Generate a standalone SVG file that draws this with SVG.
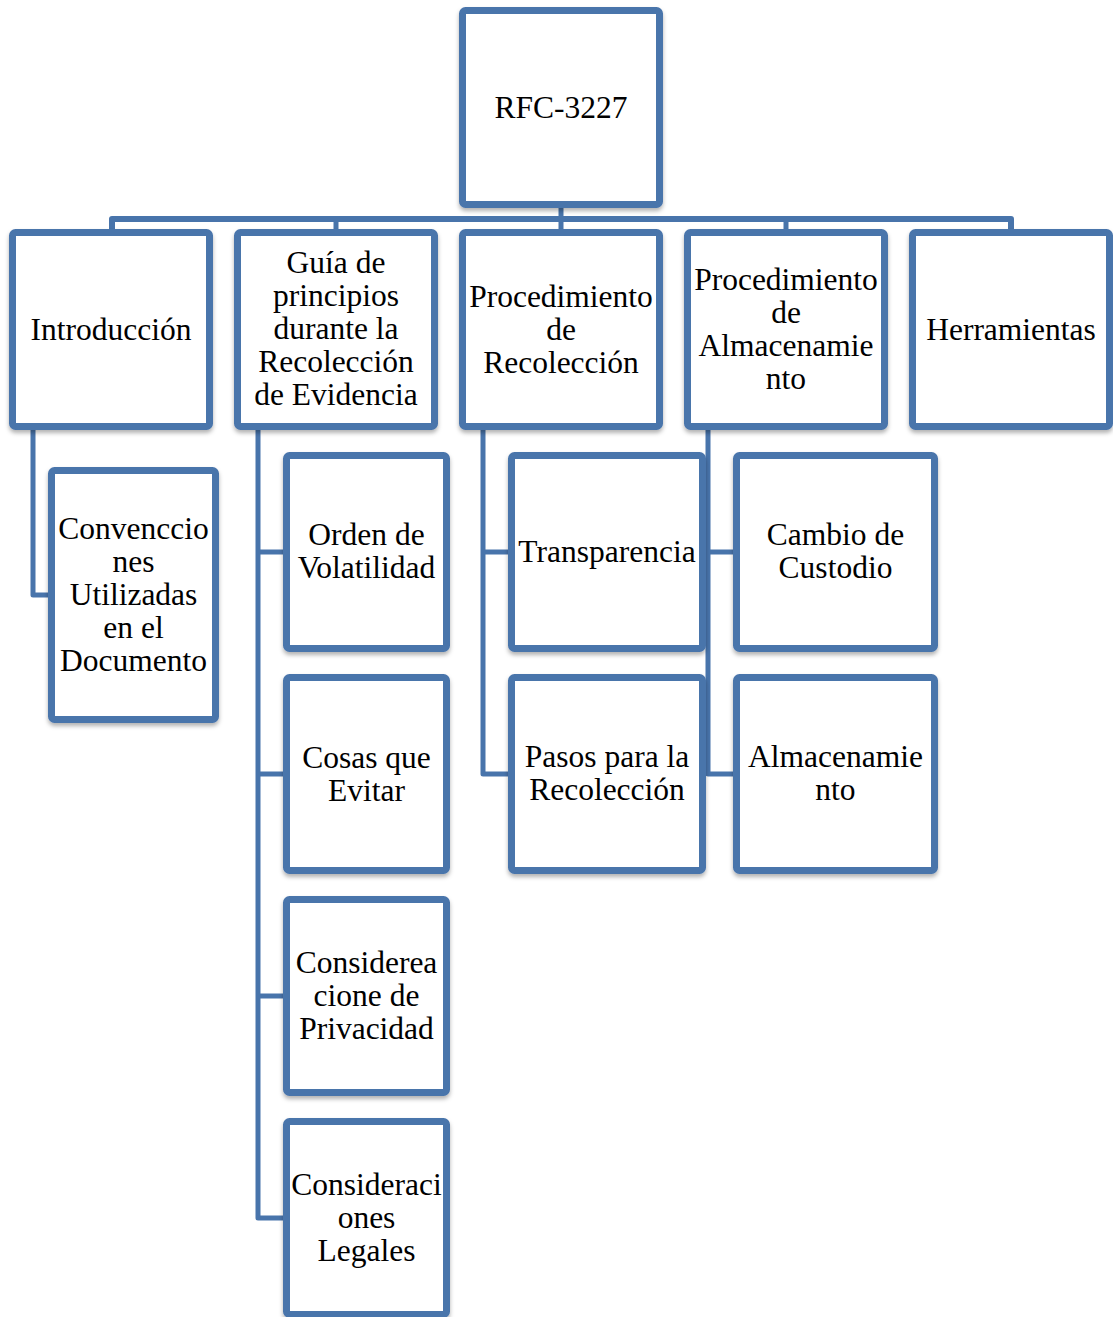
<svg xmlns="http://www.w3.org/2000/svg" width="1113" height="1317" viewBox="0 0 1113 1317">
<style>
.box{fill:#ffffff;stroke:#4874ab;stroke-width:7;filter:url(#sh)}
.con{fill:none;stroke:#4874ab;stroke-width:5;stroke-linejoin:round}
text{font-family:"Liberation Serif","Times New Roman",serif;font-size:31.5px;fill:#000;text-anchor:middle}
</style>
<defs>
<filter id="sh" x="-10%" y="-10%" width="120%" height="120%">
<feDropShadow dx="0" dy="3" stdDeviation="2" flood-color="#000" flood-opacity="0.3"/>
</filter>
</defs>
<rect width="1113" height="1317" fill="#ffffff"/>
<g id="connectors">
<path class="con" d="M561,208 V219"/>
<path class="con" style="stroke-width:6" d="M112,232 V219 H1011 V232"/>
<path class="con" d="M336,219 V232 M561,219 V232 M786,219 V232"/>
<path class="con" d="M33,430 V595 H51"/>
<path class="con" d="M258,430 V1218 H286 M258,552 H286 M258,774 H286 M258,996 H286"/>
<path class="con" d="M483,430 V774 H511 M483,552 H511"/>
<path class="con" d="M708,430 V774 H736 M708,552 H736"/>
</g>
<g id="n-rfc"><rect class="box" x="462.5" y="10.5" width="197" height="194" rx="3"/><text x="561" y="118">RFC-3227</text></g>
<g id="n-intro"><rect class="box" x="12.5" y="232.5" width="197" height="194" rx="3"/><text x="111" y="340">Introducción</text></g>
<g id="n-guia"><rect class="box" x="237.5" y="232.5" width="197" height="194" rx="3"/><text x="336"><tspan x="336" y="273">Guía de</tspan><tspan x="336" y="306">principios</tspan><tspan x="336" y="339">durante la</tspan><tspan x="336" y="372">Recolección</tspan><tspan x="336" y="405">de Evidencia</tspan></text></g>
<g id="n-procrec"><rect class="box" x="462.5" y="232.5" width="197" height="194" rx="3"/><text x="561"><tspan x="561" y="307">Procedimiento</tspan><tspan x="561" y="340">de</tspan><tspan x="561" y="373">Recolección</tspan></text></g>
<g id="n-procalm"><rect class="box" x="687.5" y="232.5" width="197" height="194" rx="3"/><text x="786"><tspan x="786" y="290">Procedimiento</tspan><tspan x="786" y="323">de</tspan><tspan x="786" y="356">Almacenamie</tspan><tspan x="786" y="389">nto</tspan></text></g>
<g id="n-herr"><rect class="box" x="912.5" y="232.5" width="197" height="194" rx="3"/><text x="1011" y="340">Herramientas</text></g>
<g id="n-conv"><rect class="box" x="51.5" y="470.5" width="164" height="249" rx="3"/><text x="133.5"><tspan x="133.5" y="539">Convenccio</tspan><tspan x="133.5" y="572">nes</tspan><tspan x="133.5" y="605">Utilizadas</tspan><tspan x="133.5" y="638">en el</tspan><tspan x="133.5" y="671">Documento</tspan></text></g>
<g id="n-orden"><rect class="box" x="286.5" y="455.5" width="160" height="193" rx="3"/><text x="366.5"><tspan x="366.5" y="545">Orden de</tspan><tspan x="366.5" y="578">Volatilidad</tspan></text></g>
<g id="n-cosas"><rect class="box" x="286.5" y="677.5" width="160" height="193" rx="3"/><text x="366.5"><tspan x="366.5" y="768">Cosas que</tspan><tspan x="366.5" y="801">Evitar</tspan></text></g>
<g id="n-priv"><rect class="box" x="286.5" y="899.5" width="160" height="193" rx="3"/><text x="366.5"><tspan x="366.5" y="973">Considerea</tspan><tspan x="366.5" y="1006">cione de</tspan><tspan x="366.5" y="1039">Privacidad</tspan></text></g>
<g id="n-legal"><rect class="box" x="286.5" y="1121.5" width="160" height="193" rx="3"/><text x="366.5"><tspan x="366.5" y="1195">Consideraci</tspan><tspan x="366.5" y="1228">ones</tspan><tspan x="366.5" y="1261">Legales</tspan></text></g>
<g id="n-transp"><rect class="box" x="511.5" y="455.5" width="191" height="193" rx="3"/><text x="607" y="562">Transparencia</text></g>
<g id="n-pasos"><rect class="box" x="511.5" y="677.5" width="191" height="193" rx="3"/><text x="607"><tspan x="607" y="767">Pasos para la</tspan><tspan x="607" y="800">Recolección</tspan></text></g>
<g id="n-cambio"><rect class="box" x="736.5" y="455.5" width="198" height="193" rx="3"/><text x="835.5"><tspan x="835.5" y="545">Cambio de</tspan><tspan x="835.5" y="578">Custodio</tspan></text></g>
<g id="n-alm"><rect class="box" x="736.5" y="677.5" width="198" height="193" rx="3"/><text x="835.5"><tspan x="835.5" y="767">Almacenamie</tspan><tspan x="835.5" y="800">nto</tspan></text></g>
</svg>
